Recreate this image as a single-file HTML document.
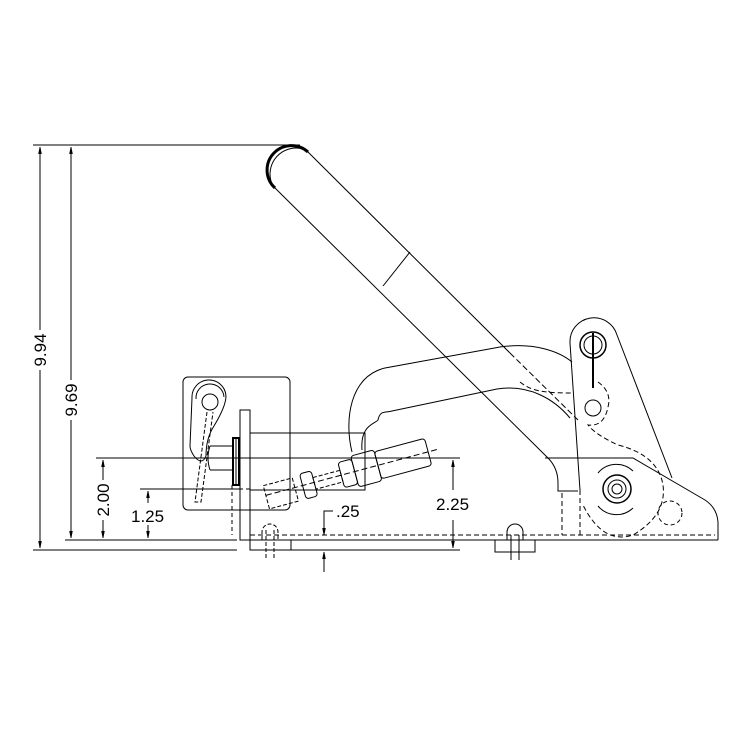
<!DOCTYPE html>
<html><head><style>body{margin:0;background:#fff}svg{display:block}text{font-family:"Liberation Sans",sans-serif;font-size:17px;fill:#000;stroke:none}</style></head>
<body>
<svg width="750" height="750" viewBox="0 0 750 750" fill="none" stroke="#000" stroke-width="1">
<defs><marker id="a" viewBox="0 0 10 10" refX="10" refY="5" markerWidth="7" markerHeight="7" orient="auto-start-reverse"><path d="M0,3 L10,5 L0,7z" fill="#000"/></marker></defs>
<line x1="33" y1="145" x2="300" y2="145"/>
<line x1="33" y1="550" x2="237" y2="550"/>
<line x1="290" y1="550" x2="460" y2="550"/>
<line x1="65" y1="540" x2="237" y2="540"/>
<line x1="96" y1="458" x2="460" y2="458"/>
<line x1="140" y1="489" x2="240" y2="489"/>
<line x1="40" y1="147" x2="40" y2="330" marker-start="url(#a)"/>
<line x1="40" y1="370" x2="40" y2="548" marker-end="url(#a)"/>
<text transform="translate(46,350) rotate(-90)" text-anchor="middle">9.94</text>
<line x1="71" y1="147" x2="71" y2="380" marker-start="url(#a)"/>
<line x1="71" y1="420" x2="71" y2="538" marker-end="url(#a)"/>
<text transform="translate(77,400) rotate(-90)" text-anchor="middle">9.69</text>
<line x1="103" y1="460" x2="103" y2="480" marker-start="url(#a)"/>
<line x1="103" y1="520" x2="103" y2="538" marker-end="url(#a)"/>
<text transform="translate(109,500) rotate(-90)" text-anchor="middle">2.00</text>
<line x1="148" y1="491" x2="148" y2="503" marker-start="url(#a)"/>
<line x1="148" y1="525" x2="148" y2="538" marker-end="url(#a)"/>
<text x="131" y="522">1.25</text>
<line x1="453" y1="460" x2="453" y2="490" marker-start="url(#a)"/>
<line x1="453" y1="520" x2="453" y2="548" marker-end="url(#a)"/>
<text x="436" y="510">2.25</text>
<polyline points="333,511 324,511 324,535" marker-end="url(#a)"/>
<line x1="324" y1="572" x2="324" y2="552" marker-end="url(#a)"/>
<text x="336" y="517">.25</text>
<line x1="250" y1="540" x2="718" y2="540"/>
<line x1="250" y1="535" x2="715" y2="535" stroke-dasharray="5,3"/>
<rect x="240" y="410" width="10" height="130"/>
<rect x="250" y="540" width="41" height="10"/>
<rect x="495" y="540" width="40" height="12"/>
<path d="M262,540 v-8 a8,8 0 0 1 16,0 v8 M266,530 v30 M274,530 v30" stroke-dasharray="4,2"/>
<path d="M507,540 v-8 a8,8 0 0 1 16,0 v8 M511,535 v25 M519,535 v25"/>
<rect x="183" y="377" width="107" height="133" rx="5"/>
<circle cx="210" cy="402" r="8"/>
<path d="M192,398 a17,17 0 0 1 34,-2 q0,10 -12,30 q-8,12 -8,30 q-4,10 -12,0 q-4,-6 -4,-10 z"/>
<path d="M196,399 a14,14 0 0 1 28,-2"/>
<path d="M207,412 l-12,90 h6 l12,-90" stroke-dasharray="4,2"/>
<path d="M210,446 h23 M210,470 h23 M210,446 q-4,12 0,24"/>
<rect x="233" y="438" width="6" height="47" stroke-width="2"/>
<line x1="236" y1="438" x2="236" y2="485"/>
<rect x="250" y="433" width="115" height="57"/>
<line x1="290" y1="433" x2="290" y2="490" stroke-dasharray="5,3"/>
<line x1="190" y1="489" x2="250" y2="489" stroke-dasharray="4,3"/>
<line x1="232" y1="485" x2="232" y2="535" stroke-dasharray="4,3"/>
<line x1="250" y1="458" x2="290" y2="458" stroke-dasharray="5,3"/>
<g transform="rotate(-15 345 470)">
<rect x="262" y="464" width="30" height="24" stroke-dasharray="4,2"/>
<rect x="300" y="462" width="12" height="26" rx="3"/>
<rect x="312" y="469" width="28" height="12" stroke-dasharray="4,2"/>
<rect x="340" y="461" width="14" height="26" rx="3"/>
<rect x="354" y="458" width="24" height="32" rx="3"/>
<rect x="378" y="460" width="52" height="28" rx="3"/>
<line x1="262" y1="474" x2="442" y2="474" stroke-dasharray="6,3"/>
</g>
<path d="M308,152 L510,353 M275,188 L548,458 q10,10 10,25 v8 h20" />
<path d="M510,353 L578,420" stroke-dasharray="6,3"/>
<path d="M308,152 a22,22 0 0 0 -33,36" stroke-width="3"/>
<path d="M303,149 a26,26 0 0 0 -31,35"/>
<line x1="383" y1="286" x2="410" y2="252"/>
<path d="M352,452 C344,420 350,376 385,368 L500,347 C535,342 560,352 572,362"/>
<path d="M362,450 C360,425 375,424 378,420 C380,410 385,413 392,411 L497,389 C530,384 555,400 570,418"/>
<path d="M520,382 C530,390 540,393 572,393" stroke-dasharray="5,3"/>
<path d="M545,458 H633 L705,500 q12,8 13,22 V540"/>
<path d="M570,343 L580,490"/>
<path d="M580,490 V535 M562,493 V535" stroke-dasharray="5,3"/>
<path d="M570,343 a24,24 0 0 1 47,-8 L672,478"/>
<circle cx="593" cy="345" r="13" stroke-width="1.5"/>
<circle cx="593" cy="345" r="9"/>
<line x1="593" y1="333" x2="593" y2="388" stroke-width="2"/>
<circle cx="593" cy="408" r="8"/>
<path d="M598,382 q14,10 10,25 q-4,20 -20,18 q8,10 30,20 q40,10 45,40 q4,30 -30,50 q-30,10 -50,-30" stroke-dasharray="5,3"/>
<circle cx="670" cy="513" r="12" stroke-dasharray="4,3"/>
<circle cx="617" cy="489" r="14" stroke-width="1.5"/>
<circle cx="617" cy="489" r="9"/>
<circle cx="617" cy="489" r="5"/>
<path d="M598,473 a24,24 0 0 1 35,-2 M598,506 a24,24 0 0 0 35,2"/>
</svg>
</body></html>
